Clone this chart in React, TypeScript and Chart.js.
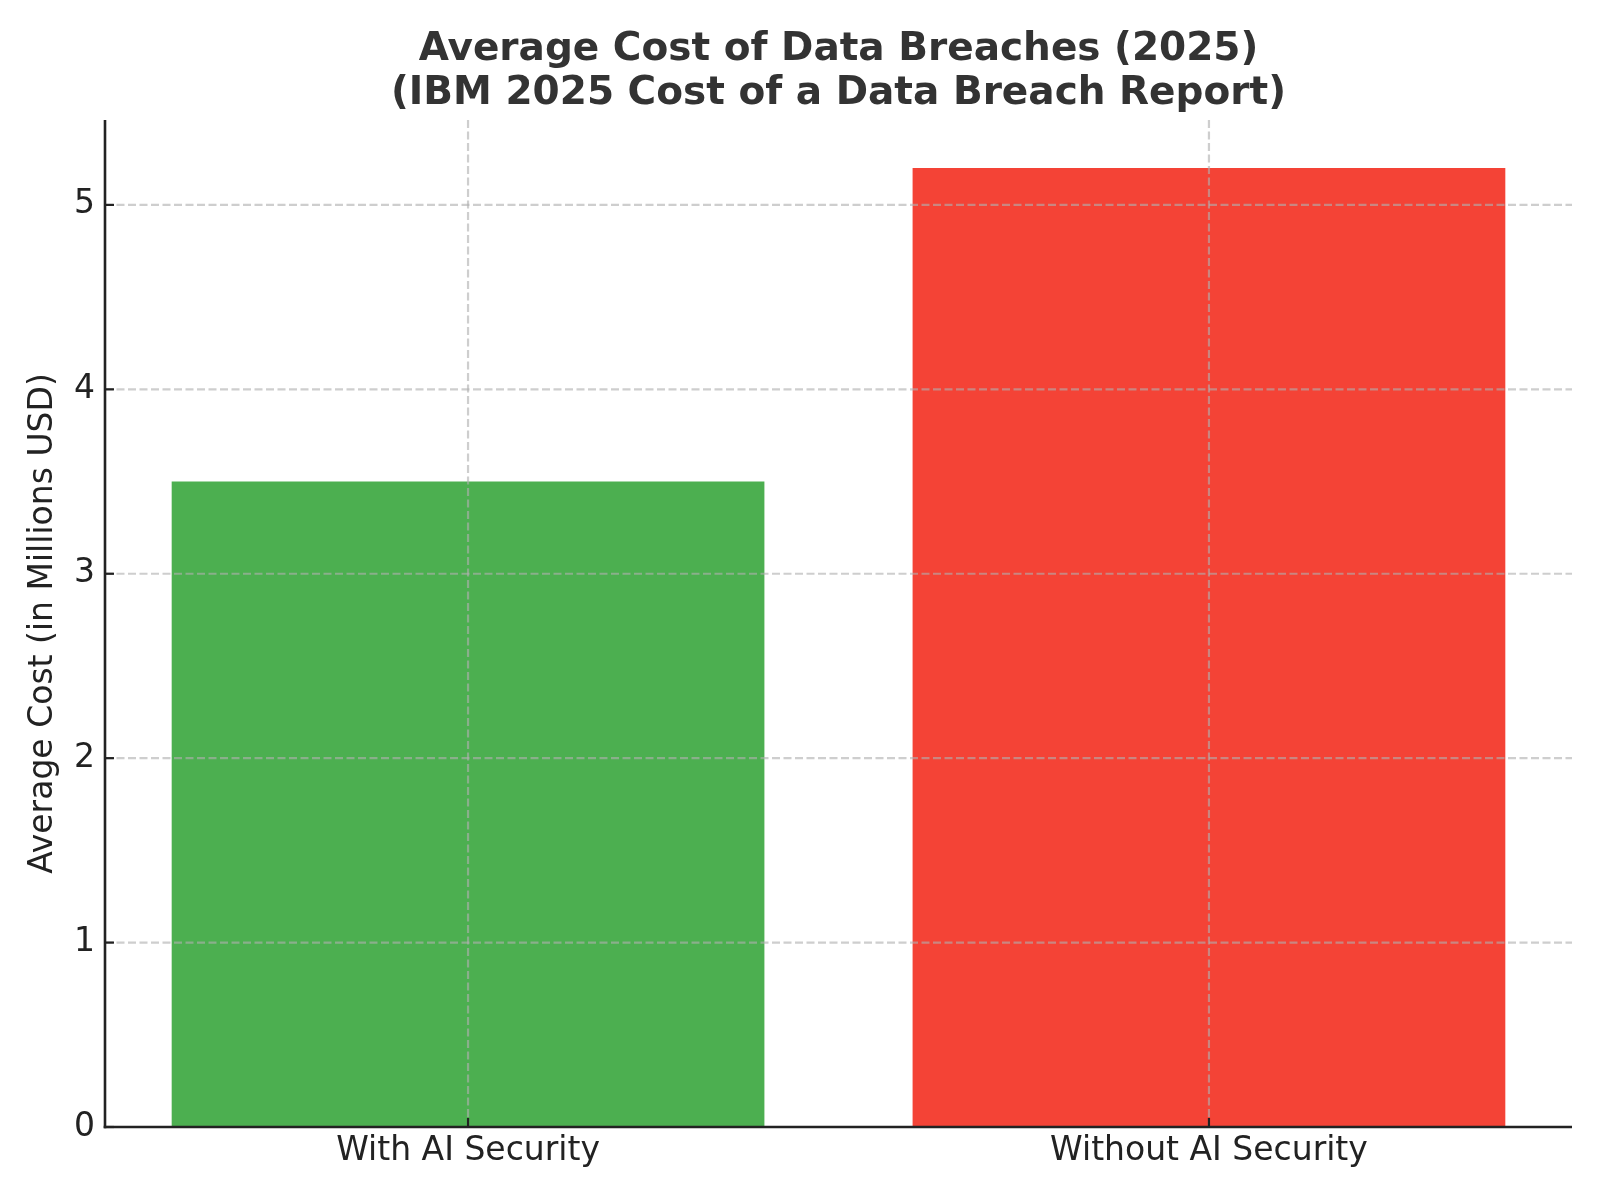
import React, { useEffect, useRef } from "react";
import { Chart, registerables } from "chart.js";

Chart.register(...registerables);

// ---- data ----
const categories: string[] = ["With AI Security", "Without AI Security"];
const costs: number[] = [3.5, 5.2];
const barColors: string[] = ["#4CAF50", "#F44336"];
const yTickValues: number[] = [0, 1, 2, 3, 4, 5];
const titleLines: string[] = [
  "Average Cost of Data Breaches (2025)",
  "(IBM 2025 Cost of a Data Breach Report)",
];
const yAxisLabel = "Average Cost (in Millions USD)";
const yMax = 5.46;

const FONT = "'DejaVu Sans', 'Liberation Sans', sans-serif";

const overlayPlugin = {
  id: "mplOverlay",
  afterDatasetsDraw(chart: any) {
    const { ctx, chartArea: a, scales } = chart;
    const xs = scales.x;
    const ys = scales.y;
    const seg = (x1: number, y1: number, x2: number, y2: number) => {
      ctx.beginPath();
      ctx.moveTo(x1, y1);
      ctx.lineTo(x2, y2);
      ctx.stroke();
    };
    ctx.save();
    // dashed grid on top of bars
    ctx.strokeStyle = "rgba(176,176,176,0.62)";
    ctx.lineWidth = 2.2;
    ctx.setLineDash([8, 3.5]);
    ys.ticks.forEach((t: any) => {
      const p = ys.getPixelForValue(t.value);
      seg(a.left, p, a.right, p);
    });
    xs.ticks.forEach((t: any) => {
      const p = xs.getPixelForValue(t.value);
      seg(p, a.top, p, a.bottom);
    });
    ctx.setLineDash([]);
    // inward tick marks
    ctx.strokeStyle = "#222222";
    ctx.lineWidth = 2.2;
    ys.ticks.forEach((t: any) => {
      const p = ys.getPixelForValue(t.value);
      seg(a.left, p, a.left + 9, p);
    });
    xs.ticks.forEach((t: any) => {
      const p = xs.getPixelForValue(t.value);
      seg(p, a.bottom, p, a.bottom - 9);
    });
    // spines (left + bottom)
    ctx.lineWidth = 2.6;
    seg(a.left, a.top, a.left, a.bottom + 1.3);
    seg(a.left - 1.3, a.bottom, a.right, a.bottom);
    ctx.restore();
  },
};

export default function App() {
  const canvasRef = useRef<HTMLCanvasElement | null>(null);

  useEffect(() => {
    const canvas = canvasRef.current;
    if (!canvas) return;
    const chart = new Chart(canvas, {
      type: "bar",
      data: {
        datasets: [
          {
            data: costs.map((v, i) => ({ x: i, y: v })),
            backgroundColor: barColors,
            borderWidth: 0,
            barPercentage: 0.8,
            categoryPercentage: 1,
          },
        ],
      },
      options: {
        responsive: false,
        animation: false,
        devicePixelRatio: 1,
        layout: { padding: { left: 0, right: 28, top: 0, bottom: 0 } },
        plugins: {
          legend: { display: false },
          tooltip: { enabled: false },
          title: {
            display: true,
            fullSize: false,
            text: titleLines,
            color: "#333333",
            font: { family: FONT, size: 39, weight: "bold", lineHeight: 1.11 },
            padding: { top: 28.5, bottom: 5 },
          },
        },
        scales: {
          x: {
            type: "linear",
            min: -0.49,
            max: 1.49,
            offset: false,
            grid: { display: false, drawTicks: false },
            border: { display: false },
            afterBuildTicks: (scale: any) => {
              scale.ticks = categories.map((_, i) => ({ value: i }));
            },
            afterFit: (scale: any) => {
              scale.height = 73;
            },
            ticks: {
              padding: 4.5,
              color: "#222222",
              font: { family: FONT, size: 33 },
              maxRotation: 0,
              autoSkip: false,
              callback: (v: any) => categories[Math.round(Number(v))] ?? "",
            },
          },
          y: {
            type: "linear",
            min: 0,
            max: yMax,
            grid: { display: false, drawTicks: false },
            border: { display: false },
            afterBuildTicks: (scale: any) => {
              scale.ticks = yTickValues.map((v) => ({ value: v }));
            },
            afterFit: (scale: any) => {
              scale.width = 105;
            },
            ticks: {
              padding: 10,
              color: "#222222",
              font: { family: FONT, size: 33 },
              callback: (v: any) => String(v),
            },
            title: {
              display: true,
              text: yAxisLabel,
              color: "#222222",
              font: { family: FONT, size: 33 },
              padding: { top: 24, bottom: 0 },
            },
          },
        },
      },
      plugins: [overlayPlugin],
    } as any);
    return () => chart.destroy();
  }, []);

  return (
    <div style={{ position: "fixed", left: 0, top: 0, width: 1600, height: 1200, background: "#ffffff" }}>
      <canvas ref={canvasRef} width={1600} height={1200} style={{ width: 1600, height: 1200, display: "block" }} />
    </div>
  );
}
